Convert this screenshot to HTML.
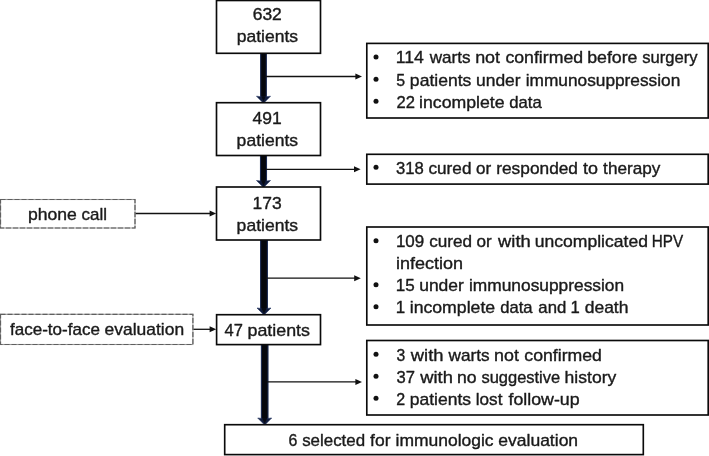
<!DOCTYPE html>
<html lang="en"><head><meta charset="utf-8"><title>Patient selection flowchart</title>
<style>
html,body{margin:0;padding:0;background:#fff;}
body{width:709px;height:456px;overflow:hidden;}
svg{display:block;will-change:transform;}
text{font-family:"Liberation Sans",Arial,sans-serif;font-size:17px;fill:#1a1a1a;stroke:#1a1a1a;stroke-width:0.38px;stroke-linejoin:round;}
</style></head><body>
<svg width="709" height="456" viewBox="0 0 709 456">
<rect width="709" height="456" fill="#fff"/>
<rect x="260.65" y="53.5" width="5.7" height="43.7" fill="#05070c" stroke="#1b2a52" stroke-width="1.1"/>
<path d="M256.5 96.2 Q263.5 97.8 270.5 96.2 L263.5 103.3 Z" fill="#111c3c" stroke="#1f3160" stroke-width="0.6"/>
<path d="M261.25 96.2 L265.75 96.2 L263.5 101.4 Z" fill="#070a14"/>
<rect x="260.5" y="155.5" width="6" height="26" fill="#05070c" stroke="#1b2a52" stroke-width="1.1"/>
<path d="M256.5 180.5 Q263.5 182.1 270.5 180.5 L263.5 187.6 Z" fill="#111c3c" stroke="#1f3160" stroke-width="0.6"/>
<path d="M261.1 180.5 L265.9 180.5 L263.5 185.7 Z" fill="#070a14"/>
<rect x="260.6" y="240" width="6.8" height="69" fill="#05070c" stroke="#1b2a52" stroke-width="1.1"/>
<path d="M257 308 Q264 309.6 271 308 L264 315.1 Z" fill="#111c3c" stroke="#1f3160" stroke-width="0.6"/>
<path d="M261.2 308 L266.8 308 L264 313.2 Z" fill="#070a14"/>
<rect x="261.4" y="344.5" width="6.6" height="74.5" fill="#05070c" stroke="#1b2a52" stroke-width="1.1"/>
<path d="M257.7 418 Q264.7 419.6 271.7 418 L264.7 425.1 Z" fill="#111c3c" stroke="#1f3160" stroke-width="0.6"/>
<path d="M262 418 L267.4 418 L264.7 423.2 Z" fill="#070a14"/>
<path d="M266 76.5 H358" stroke="#111" stroke-width="1.3" fill="none"/>
<path d="M362 76.5 L355.4 73.5 L355.4 79.5 Z" fill="#111"/>
<path d="M266 169.3 H356.6" stroke="#111" stroke-width="1.3" fill="none"/>
<path d="M360.6 169.3 L354 166.3 L354 172.3 Z" fill="#111"/>
<path d="M266 278.2 H356.8" stroke="#111" stroke-width="1.3" fill="none"/>
<path d="M360.8 278.2 L354.2 275.2 L354.2 281.2 Z" fill="#111"/>
<path d="M267 381.9 H358" stroke="#111" stroke-width="1.3" fill="none"/>
<path d="M362 381.9 L355.4 378.9 L355.4 384.9 Z" fill="#111"/>
<path d="M135 213.5 H212.2" stroke="#111" stroke-width="1.3" fill="none"/>
<path d="M216.2 213.5 L209.6 210.5 L209.6 216.5 Z" fill="#111"/>
<path d="M193 329.3 H212.2" stroke="#111" stroke-width="1.3" fill="none"/>
<path d="M216.2 329.3 L209.6 326.3 L209.6 332.3 Z" fill="#111"/>
<rect x="216.5" y="0.5" width="104" height="52.8" fill="#fff" stroke="#0a0a0a" stroke-width="1.65"/>
<rect x="216.5" y="102.7" width="104" height="52.8" fill="#fff" stroke="#0a0a0a" stroke-width="1.65"/>
<rect x="216.5" y="187" width="104" height="53" fill="#fff" stroke="#0a0a0a" stroke-width="1.65"/>
<rect x="216.6" y="314.7" width="103.9" height="29.9" fill="#fff" stroke="#0a0a0a" stroke-width="1.65"/>
<rect x="224.7" y="424.7" width="418.6" height="29.9" fill="#fff" stroke="#0a0a0a" stroke-width="1.65"/>
<rect x="366.8" y="43.4" width="341.4" height="74.6" fill="#fff" stroke="#0a0a0a" stroke-width="1.65"/>
<rect x="366.8" y="154.3" width="341.4" height="29.8" fill="#fff" stroke="#0a0a0a" stroke-width="1.65"/>
<rect x="366.8" y="227" width="341.4" height="98" fill="#fff" stroke="#0a0a0a" stroke-width="1.65"/>
<rect x="366.8" y="340.5" width="341.4" height="74.5" fill="#fff" stroke="#0a0a0a" stroke-width="1.65"/>
<rect x="0.5" y="199.5" width="134.5" height="28.5" fill="#fff" stroke="#9a9a9a" stroke-width="1.1"/>
<rect x="0.5" y="199.5" width="134.5" height="28.5" fill="none" stroke="#606060" stroke-width="1.2" stroke-dasharray="5 2"/>
<rect x="0.5" y="314.3" width="192.4" height="30.2" fill="#fff" stroke="#9a9a9a" stroke-width="1.1"/>
<rect x="0.5" y="314.3" width="192.4" height="30.2" fill="none" stroke="#606060" stroke-width="1.2" stroke-dasharray="5 2"/>
<circle cx="376" cy="56.95" r="2.5" fill="#111"/>
<circle cx="376" cy="79.2" r="2.5" fill="#111"/>
<circle cx="376" cy="101.2" r="2.5" fill="#111"/>
<circle cx="376" cy="167.2" r="2.5" fill="#111"/>
<circle cx="376" cy="240.7" r="2.5" fill="#111"/>
<circle cx="376" cy="284.7" r="2.5" fill="#111"/>
<circle cx="376" cy="306.7" r="2.5" fill="#111"/>
<circle cx="376" cy="354.2" r="2.5" fill="#111"/>
<circle cx="376" cy="376.2" r="2.5" fill="#111"/>
<circle cx="376" cy="398.2" r="2.5" fill="#111"/>
<text id="t0" x="252.68" y="20.4" textLength="29.16" lengthAdjust="spacingAndGlyphs">632</text>
<text id="t1" x="236.76" y="42.2" textLength="61.38" lengthAdjust="spacingAndGlyphs">patients</text>
<text id="t2" x="252.55" y="124.25" textLength="29.15" lengthAdjust="spacingAndGlyphs">491</text>
<text id="t3" x="236.63" y="146" textLength="61.43" lengthAdjust="spacingAndGlyphs">patients</text>
<text id="t4" x="252.48" y="208.5" textLength="29.15" lengthAdjust="spacingAndGlyphs">173</text>
<text id="t5" x="236.63" y="230.5" textLength="61.43" lengthAdjust="spacingAndGlyphs">patients</text>
<text id="t6" x="224.56" y="335.5" textLength="18.35" lengthAdjust="spacingAndGlyphs">47</text>
<text id="t7" x="247.47" y="335.5" textLength="62.49" lengthAdjust="spacingAndGlyphs">patients</text>
<text id="t8" x="27.91" y="219.75" textLength="48.88" lengthAdjust="spacingAndGlyphs">phone</text>
<text id="t9" x="81.57" y="219.75" textLength="25.42" lengthAdjust="spacingAndGlyphs">call</text>
<text id="t10" x="9.98" y="335.3" textLength="89.97" lengthAdjust="spacingAndGlyphs">face-to-face</text>
<text id="t11" x="104.56" y="335.3" textLength="79.59" lengthAdjust="spacingAndGlyphs">evaluation</text>
<text id="t12" x="395.80" y="63.25" textLength="28.07" lengthAdjust="spacingAndGlyphs">114</text>
<text id="t13" x="429.67" y="63.25" textLength="40.84" lengthAdjust="spacingAndGlyphs">warts</text>
<text id="t14" x="475.15" y="63.25" textLength="24.95" lengthAdjust="spacingAndGlyphs">not</text>
<text id="t15" x="505.40" y="63.25" textLength="77.70" lengthAdjust="spacingAndGlyphs">confirmed</text>
<text id="t16" x="587.17" y="63.25" textLength="50.30" lengthAdjust="spacingAndGlyphs">before</text>
<text id="t17" x="642.20" y="63.25" textLength="55.41" lengthAdjust="spacingAndGlyphs">surgery</text>
<text id="t18" x="396.32" y="85.5" textLength="8.87" lengthAdjust="spacingAndGlyphs">5</text>
<text id="t19" x="409.89" y="85.5" textLength="61.49" lengthAdjust="spacingAndGlyphs">patients</text>
<text id="t20" x="476.02" y="85.5" textLength="44.59" lengthAdjust="spacingAndGlyphs">under</text>
<text id="t21" x="525.69" y="85.5" textLength="154.61" lengthAdjust="spacingAndGlyphs">immunosuppression</text>
<text id="t22" x="396.42" y="107.5" textLength="18.47" lengthAdjust="spacingAndGlyphs">22</text>
<text id="t23" x="419.05" y="107.5" textLength="85.57" lengthAdjust="spacingAndGlyphs">incomplete</text>
<text id="t24" x="509.18" y="107.5" textLength="32.59" lengthAdjust="spacingAndGlyphs">data</text>
<text id="t25" x="395.90" y="173.5" textLength="27.82" lengthAdjust="spacingAndGlyphs">318</text>
<text id="t26" x="428.49" y="173.5" textLength="42.95" lengthAdjust="spacingAndGlyphs">cured</text>
<text id="t27" x="476.00" y="173.5" textLength="15.12" lengthAdjust="spacingAndGlyphs">or</text>
<text id="t28" x="496.23" y="173.5" textLength="81.78" lengthAdjust="spacingAndGlyphs">responded</text>
<text id="t29" x="582.91" y="173.5" textLength="14.96" lengthAdjust="spacingAndGlyphs">to</text>
<text id="t30" x="603.11" y="173.5" textLength="57.26" lengthAdjust="spacingAndGlyphs">therapy</text>
<text id="t31" x="395.88" y="247" textLength="28.33" lengthAdjust="spacingAndGlyphs">109</text>
<text id="t32" x="429.28" y="247" textLength="42.85" lengthAdjust="spacingAndGlyphs">cured</text>
<text id="t33" x="476.57" y="247" textLength="15.22" lengthAdjust="spacingAndGlyphs">or</text>
<text id="t34" x="498.08" y="247" textLength="32.67" lengthAdjust="spacingAndGlyphs">with</text>
<text id="t35" x="534.79" y="247" textLength="113.15" lengthAdjust="spacingAndGlyphs">uncomplicated</text>
<text id="t36" x="651.80" y="247" textLength="31.40" lengthAdjust="spacingAndGlyphs">HPV</text>
<text id="t37" x="396.08" y="269" textLength="67.03" lengthAdjust="spacingAndGlyphs">infection</text>
<text id="t38" x="395.89" y="291" textLength="18.95" lengthAdjust="spacingAndGlyphs">15</text>
<text id="t39" x="419.21" y="291" textLength="44.65" lengthAdjust="spacingAndGlyphs">under</text>
<text id="t40" x="468.98" y="291" textLength="155.18" lengthAdjust="spacingAndGlyphs">immunosuppression</text>
<text id="t41" x="395.82" y="313" textLength="9.43" lengthAdjust="spacingAndGlyphs">1</text>
<text id="t42" x="409.71" y="313" textLength="85.43" lengthAdjust="spacingAndGlyphs">incomplete</text>
<text id="t43" x="500.21" y="313" textLength="32.35" lengthAdjust="spacingAndGlyphs">data</text>
<text id="t44" x="538.35" y="313" textLength="27.91" lengthAdjust="spacingAndGlyphs">and</text>
<text id="t45" x="570.47" y="313" textLength="9.29" lengthAdjust="spacingAndGlyphs">1</text>
<text id="t46" x="584.67" y="313" textLength="43.83" lengthAdjust="spacingAndGlyphs">death</text>
<text id="t47" x="396.51" y="360.5" textLength="8.76" lengthAdjust="spacingAndGlyphs">3</text>
<text id="t48" x="410.83" y="360.5" textLength="32.68" lengthAdjust="spacingAndGlyphs">with</text>
<text id="t49" x="448.56" y="360.5" textLength="40.98" lengthAdjust="spacingAndGlyphs">warts</text>
<text id="t50" x="494.05" y="360.5" textLength="24.85" lengthAdjust="spacingAndGlyphs">not</text>
<text id="t51" x="524.34" y="360.5" textLength="77.57" lengthAdjust="spacingAndGlyphs">confirmed</text>
<text id="t52" x="396.43" y="382.5" textLength="18.47" lengthAdjust="spacingAndGlyphs">37</text>
<text id="t53" x="420.26" y="382.5" textLength="32.64" lengthAdjust="spacingAndGlyphs">with</text>
<text id="t54" x="456.91" y="382.5" textLength="19.61" lengthAdjust="spacingAndGlyphs">no</text>
<text id="t55" x="481.41" y="382.5" textLength="78.79" lengthAdjust="spacingAndGlyphs">suggestive</text>
<text id="t56" x="564.64" y="382.5" textLength="51.64" lengthAdjust="spacingAndGlyphs">history</text>
<text id="t57" x="396.22" y="404.5" textLength="8.92" lengthAdjust="spacingAndGlyphs">2</text>
<text id="t58" x="409.74" y="404.5" textLength="61.33" lengthAdjust="spacingAndGlyphs">patients</text>
<text id="t59" x="475.75" y="404.5" textLength="26.68" lengthAdjust="spacingAndGlyphs">lost</text>
<text id="t60" x="508.44" y="404.5" textLength="71.22" lengthAdjust="spacingAndGlyphs">follow-up</text>
<text id="t61" x="288.38" y="446" textLength="8.86" lengthAdjust="spacingAndGlyphs">6</text>
<text id="t62" x="302.15" y="446" textLength="62.95" lengthAdjust="spacingAndGlyphs">selected</text>
<text id="t63" x="370.10" y="446" textLength="20.43" lengthAdjust="spacingAndGlyphs">for</text>
<text id="t64" x="395.50" y="446" textLength="98.07" lengthAdjust="spacingAndGlyphs">immunologic</text>
<text id="t65" x="498.29" y="446" textLength="79.83" lengthAdjust="spacingAndGlyphs">evaluation</text>
</svg>
</body></html>
